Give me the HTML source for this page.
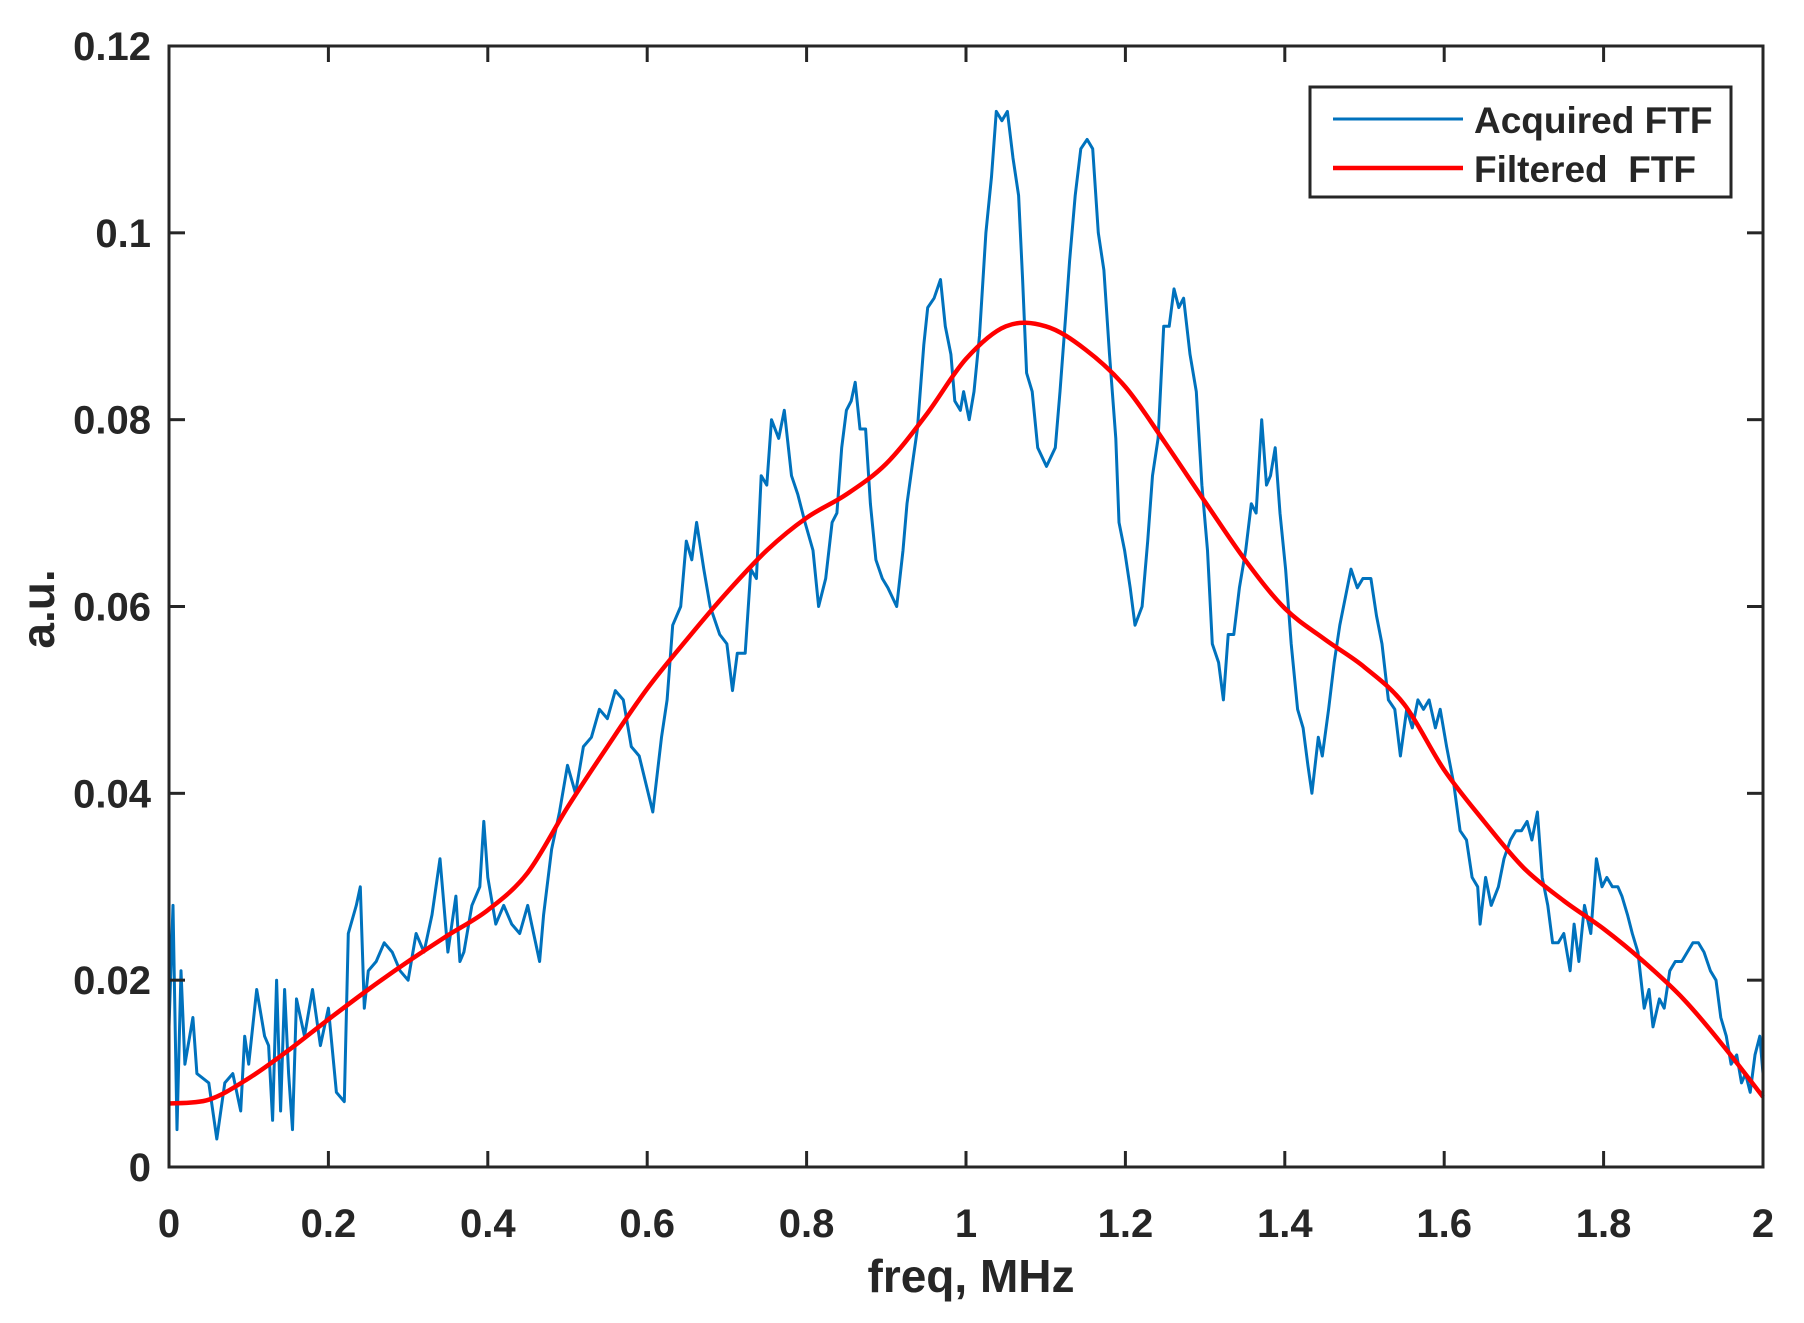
<!DOCTYPE html>
<html><head><meta charset="utf-8"><style>
html,body{margin:0;padding:0;background:#fff;}
svg text{font-family:"Liberation Sans",Arial,sans-serif;font-weight:bold;fill:#262626;}
</style></head><body>
<svg id="chart" width="1804" height="1318" viewBox="0 0 1804 1318" xmlns="http://www.w3.org/2000/svg">
<rect x="0" y="0" width="1804" height="1318" fill="#fff"/>
<g id="plot"></g>
<g id="axes"></g>
<text x="971" y="1292" font-size="46" text-anchor="middle">freq, MHz</text>
<text x="0" y="0" font-size="46" text-anchor="middle" transform="translate(54,609) rotate(-90)">a.u.</text>
<g>
<rect x="1310" y="87" width="421" height="110" fill="#fff" stroke="#262626" stroke-width="3"/>
<line x1="1333" y1="119" x2="1463" y2="119" stroke="#0072BD" stroke-width="3"/>
<text x="1474" y="133" font-size="37">Acquired FTF</text>
<line x1="1333" y1="168" x2="1463" y2="168" stroke="#FF0000" stroke-width="4.5"/>
<text x="1474" y="182" font-size="37" xml:space="preserve">Filtered  FTF</text>
</g>
</svg>
<script>
const acqX=[0,0.005,0.01,0.015,0.02,0.03,0.035,0.05,0.06,0.07,0.08,0.09,0.095,0.1,0.11,0.12,0.125,0.13,0.135,0.14,0.145,0.15,0.155,0.16,0.17,0.18,0.19,0.2,0.21,0.22,0.225,0.235,0.24,0.245,0.25,0.26,0.27,0.28,0.29,0.3,0.31,0.32,0.33,0.34,0.35,0.36,0.365,0.37,0.38,0.39,0.395,0.4,0.41,0.42,0.43,0.44,0.45,0.455,0.465,0.47,0.48,0.49,0.5,0.51,0.52,0.53,0.54,0.55,0.56,0.57,0.58,0.59,
0.607,0.618,0.625,0.632,0.642,0.649,0.656,0.662,0.671,0.679,0.691,0.7,0.707,0.713,0.723,0.73,0.737,0.743,0.75,0.756,0.765,0.772,0.781,0.789,0.798,0.808,0.815,0.824,0.832,0.838,0.844,0.85,0.856,0.861,0.867,0.874,0.88,0.887,0.895,0.902,0.913,0.921,0.926,0.934,0.939,0.947,0.952,0.96,0.968,0.974,0.981,0.986,0.993,0.997,1.004,1.01,1.017,1.025,1.032,1.038,1.045,1.052,1.059,1.066,1.071,1.076,1.083,1.09,1.101,1.112,1.118,1.125,1.13,1.137,1.144,1.152,1.159,1.166,1.173,1.18,1.188,1.192,1.199,1.206,1.212,1.221,1.228,1.234,1.241,1.248,1.255,1.261,1.267,1.273,1.281,1.289,1.296,1.303,1.309,1.317,1.323,1.329,1.336,1.343,1.351,1.358,1.364,1.371,1.377,1.382,1.388,1.394,1.401,1.408,1.416,1.423,1.429,1.434,1.442,1.447,1.455,1.462,1.469,1.476,1.483,1.491,1.498,1.508,1.515,1.522,1.53,1.538,1.545,1.553,1.56,1.567,1.574,1.581,1.589,1.595,1.603,1.612,1.62,1.628,1.635,1.642,1.645,1.652,1.659,1.668,1.675,1.683,1.69,1.697,1.704,1.71,1.717,1.723,1.73,1.736,1.743,1.75,1.758,1.763,1.769,1.776,1.784,1.791,1.798,1.804,1.811,1.818,1.823,1.83,1.836,1.843,1.851,1.857,1.862,1.87,1.876,1.883,1.89,1.898,1.905,1.912,1.919,1.926,1.934,1.941,1.947,1.954,1.96,1.967,1.973,1.978,1.984,1.99,1.996,2.0];
const acqY=[0.015,0.028,0.004,0.021,0.011,0.016,0.010,0.009,0.003,0.009,0.010,0.006,0.014,0.011,0.019,0.014,0.013,0.005,0.020,0.006,0.019,0.010,0.004,0.018,0.014,0.019,0.013,0.017,0.008,0.007,0.025,0.028,0.030,0.017,0.021,0.022,0.024,0.023,0.021,0.020,0.025,0.023,0.027,0.033,0.023,0.029,0.022,0.023,0.028,0.030,0.037,0.031,0.026,0.028,0.026,0.025,0.028,0.026,0.022,0.027,0.034,0.038,0.043,0.040,0.045,0.046,0.049,0.048,0.051,0.050,0.045,0.044,
0.038,0.046,0.050,0.058,0.060,0.067,0.065,0.069,0.064,0.060,0.057,0.056,0.051,0.055,0.055,0.064,0.063,0.074,0.073,0.080,0.078,0.081,0.074,0.072,0.069,0.066,0.060,0.063,0.069,0.070,0.077,0.081,0.082,0.084,0.079,0.079,0.071,0.065,0.063,0.062,0.060,0.066,0.071,0.076,0.079,0.088,0.092,0.093,0.095,0.090,0.087,0.082,0.081,0.083,0.080,0.083,0.089,0.100,0.106,0.113,0.112,0.113,0.108,0.104,0.095,0.085,0.083,0.077,0.075,0.077,0.083,0.091,0.097,0.104,0.109,0.110,0.109,0.100,0.096,0.087,0.078,0.069,0.066,0.062,0.058,0.060,0.067,0.074,0.078,0.090,0.090,0.094,0.092,0.093,0.087,0.083,0.073,0.066,0.056,0.054,0.050,0.057,0.057,0.062,0.066,0.071,0.070,0.080,0.073,0.074,0.077,0.070,0.064,0.056,0.049,0.047,0.043,0.040,0.046,0.044,0.049,0.054,0.058,0.061,0.064,0.062,0.063,0.063,0.059,0.056,0.050,0.049,0.044,0.049,0.047,0.050,0.049,0.050,0.047,0.049,0.045,0.041,0.036,0.035,0.031,0.030,0.026,0.031,0.028,0.030,0.033,0.035,0.036,0.036,0.037,0.035,0.038,0.031,0.028,0.024,0.024,0.025,0.021,0.026,0.022,0.028,0.025,0.033,0.030,0.031,0.030,0.030,0.029,0.027,0.025,0.023,0.017,0.019,0.015,0.018,0.017,0.021,0.022,0.022,0.023,0.024,0.024,0.023,0.021,0.020,0.016,0.014,0.011,0.012,0.009,0.010,0.008,0.012,0.014,0.010];
const filtX=[0,0.05,0.1,0.15,0.2,0.25,0.3,0.35,0.4,0.45,0.5,0.55,0.6,0.65,0.7,0.75,0.8,0.85,0.9,0.95,1.0,1.05,1.1,1.15,1.2,1.25,1.3,1.35,1.4,1.45,1.5,1.55,1.6,1.65,1.7,1.75,1.8,1.85,1.9,1.95,2.0];
const filtY=[0.0068,0.0072,0.0095,0.0125,0.0158,0.019,0.022,0.0248,0.0275,0.0315,0.0385,0.045,0.0512,0.0565,0.0615,0.066,0.0695,0.072,0.0753,0.0805,0.0865,0.0900,0.0900,0.0875,0.0835,0.0775,0.0712,0.065,0.0598,0.0565,0.0535,0.0495,0.0425,0.037,0.032,0.0285,0.0255,0.022,0.018,0.013,0.0075];
const xTicks=[0,0.2,0.4,0.6,0.8,1,1.2,1.4,1.6,1.8,2];
const xTickLabels=["0","0.2","0.4","0.6","0.8","1","1.2","1.4","1.6","1.8","2"];
const yTicks=[0,0.02,0.04,0.06,0.08,0.1,0.12];
const yTickLabels=["0","0.02","0.04","0.06","0.08","0.1","0.12"];

const L=169,R=1763,T=46,B=1167;
const sx=v=>L+(v-0)/(2-0)*(R-L);
const sy=v=>B-(v-0)/(0.12-0)*(B-T);
const NS="http://www.w3.org/2000/svg";
const plot=document.getElementById('plot');
const axes=document.getElementById('axes');

let d=acqX.map((x,i)=>(i?'L':'M')+sx(x).toFixed(1)+','+sy(acqY[i]).toFixed(1)).join(' ');
const p1=document.createElementNS(NS,'path');
p1.setAttribute('d',d);p1.setAttribute('fill','none');p1.setAttribute('stroke','#0072BD');p1.setAttribute('stroke-width','3');p1.setAttribute('stroke-linejoin','round');


plot.appendChild(p1);

const pts=filtX.map((x,i)=>[sx(x),sy(filtY[i])]);
let d2='M'+pts[0][0]+','+pts[0][1];
for(let i=0;i<pts.length-1;i++){
  const p0=pts[Math.max(0,i-1)],a=pts[i],b=pts[i+1],p3=pts[Math.min(pts.length-1,i+2)];
  const c1=[a[0]+(b[0]-p0[0])/6,a[1]+(b[1]-p0[1])/6],c2=[b[0]-(p3[0]-a[0])/6,b[1]-(p3[1]-a[1])/6];
  d2+=` C${c1[0].toFixed(1)},${c1[1].toFixed(1)} ${c2[0].toFixed(1)},${c2[1].toFixed(1)} ${b[0].toFixed(1)},${b[1].toFixed(1)}`;
}
const p2=document.createElementNS(NS,'path');
p2.setAttribute('d',d2);p2.setAttribute('fill','none');p2.setAttribute('stroke','#FF0000');p2.setAttribute('stroke-width','4.5');


plot.appendChild(p2);

const box=document.createElementNS(NS,'rect');
box.setAttribute('x',L);box.setAttribute('y',T);box.setAttribute('width',R-L);box.setAttribute('height',B-T);
box.setAttribute('fill','none');box.setAttribute('stroke','#262626');box.setAttribute('stroke-width','3');


axes.appendChild(box);

function ln(x1,y1,x2,y2){const l=document.createElementNS(NS,'line');l.setAttribute('x1',x1);l.setAttribute('y1',y1);l.setAttribute('x2',x2);l.setAttribute('y2',y2);l.setAttribute('stroke','#262626');l.setAttribute('stroke-width','3');axes.appendChild(l);return l;}
xTicks.forEach((v,i)=>{
  const x=sx(v);
  const t1=ln(x,B,x,B-16);
  
  
  const t2=ln(x,T,x,T+16);
  
  
  const t=document.createElementNS(NS,'text');
  t.setAttribute('x',x);t.setAttribute('y',1237);t.setAttribute('font-size','40');t.setAttribute('text-anchor','middle');
  t.textContent=xTickLabels[i];
  
  
  axes.appendChild(t);
});
yTicks.forEach((v,i)=>{
  const y=sy(v);
  const t1=ln(L,y,L+16,y);
  
  
  const t2=ln(R,y,R-16,y);
  
  
  const t=document.createElementNS(NS,'text');
  t.setAttribute('x',151);t.setAttribute('y',y+14);t.setAttribute('font-size','40');t.setAttribute('text-anchor','end');
  t.textContent=yTickLabels[i];
  
  
  axes.appendChild(t);
});
</script>
</body></html>
